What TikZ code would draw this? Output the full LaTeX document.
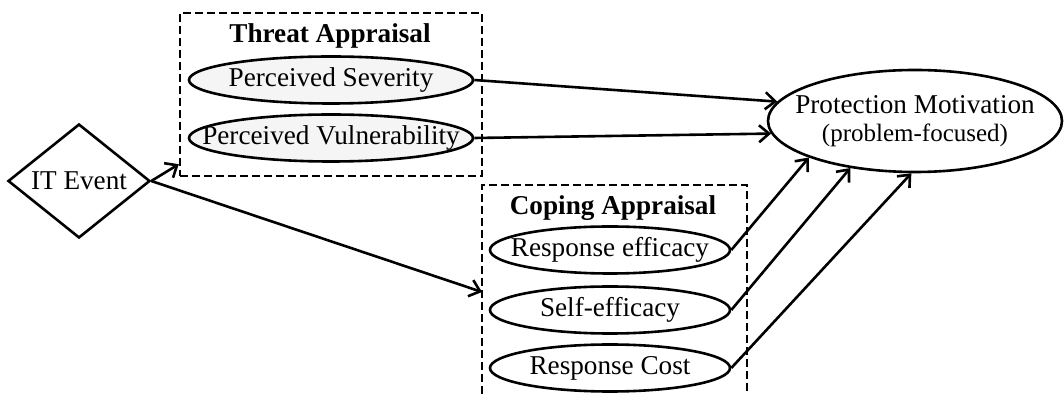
\documentclass[tikz,border=0pt]{standalone}
\usepackage{fontspec}
\setmainfont{Liberation Serif}
\usetikzlibrary{shapes.geometric,arrows.meta}
\tikzset{
	factor/.style={draw, ellipse, line width=1.3pt, inner xsep=-20pt, inner ysep=0pt,
		minimum width=120pt, minimum height=23.5pt},
	grpbox/.style={draw, line width=1.2pt, dash pattern=on 4pt off 2pt},
	grptitle/.style={font=\fontsize{13.6}{15}\selectfont\bfseries},
	link/.style={-{Straight Barb[length=5pt,width=8.5pt]}, line width=1.3pt},
}
\begin{document}
\begin{tikzpicture}[x=0.5pt, y=-0.5pt, font=\fontsize{13.6}{15}\selectfont]
	\useasboundingbox (0,0) rectangle (1064,394);
	% Threat Appraisal
	\node[grpbox, minimum width=151pt, minimum height=81.5pt, inner sep=0pt]
		(threatbox) at (331,94.5) {};
	\node[grptitle] (threattitle) at (330,36) {Threat Appraisal};
	\node[factor, fill=gray!8, minimum width=142pt] (severity) at (331,80)
		{Perceived Severity};
	\node[factor, fill=gray!8, minimum width=142pt] (vulner) at (331,138)
		{Perceived Vulnerability};
	% Ausloeser
	\node[draw, diamond, line width=1.3pt, inner sep=0pt, minimum width=71pt,
		minimum height=52.5pt] (itevent) at (79,181) {IT Event};
	% Coping Appraisal (unten offen)
	\coordinate (copbl) at (482,394);
	\coordinate (copbr) at (747,394);
	\coordinate (copin) at (482,292);
	\draw[grpbox] (copbl) |- (747,185) -- (copbr);
	\node[grptitle] (copetitle) at (613,208) {Coping Appraisal};
	\node[factor] (respeff) at (610,250) {Response efficacy};
	\node[factor] (selfeff) at (610,310) {Self-efficacy};
	\node[factor] (respcost) at (610,368) {Response Cost};
	% Ergebnis
	\node[draw, ellipse, line width=1.3pt, inner xsep=-25pt, inner ysep=-4pt,
		minimum width=147pt, minimum height=51pt, align=center] (protmot) at (915,121)
		{Protection Motivation\\[-1pt]{\fontsize{12.5}{14}\selectfont (problem-focused)}};
	% Pfeile
	\draw[link] (itevent.east) -- ([yshift=6.5pt]threatbox.south west);
	\draw[link] (itevent.east) -- (copin);
	\draw[link] (severity.east) -- (protmot.172);
	\draw[link] (vulner.east) -- (protmot.185.6);
	\draw[link] (respeff.east) -- (protmot.199.4);
	\draw[link] (selfeff.east) -- (protmot.216);
	\draw[link] (respcost.east) -- (protmot.266);
\end{tikzpicture}
\end{document}
